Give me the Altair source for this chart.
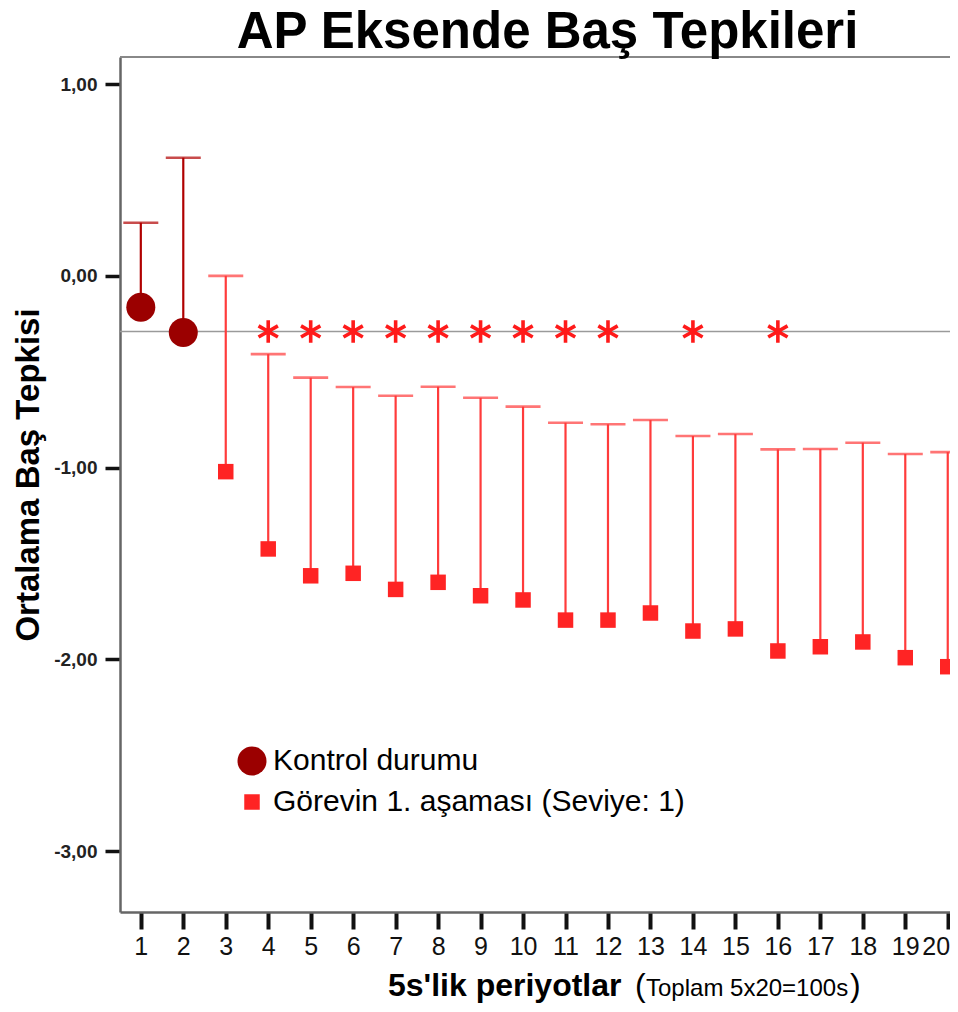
import altair as alt
import pandas as pd

# ---------------- data ----------------
series_names = ["Kontrol durumu", "Görevin 1. aşaması (Seviye: 1)"]

periods_ctrl = [1, 2]
ctrl_mean = [-0.164, -0.295]
ctrl_upper = [0.277, 0.616]

periods_task = list(range(3, 21))
task_mean = [-1.021, -1.424, -1.564, -1.551, -1.635, -1.598, -1.668, -1.690, -1.795,
             -1.795, -1.758, -1.852, -1.841, -1.956, -1.934, -1.909, -1.991, -2.038]
task_upper = [0.000, -0.408, -0.531, -0.580, -0.625, -0.578, -0.636, -0.682, -0.766,
              -0.774, -0.752, -0.835, -0.825, -0.905, -0.903, -0.870, -0.929, -0.919]

star_periods = [4, 5, 6, 7, 8, 9, 10, 11, 12, 14, 16]
ref_value = -0.29

x_ticks = list(range(1, 21))
y_ticks = [-3, -2, -1, 0, 1]

title_text = "AP Eksende Baş Tepkileri"
y_title = "Ortalama Baş Tepkisi"
x_title_bold = "5s'lik periyotlar"
x_title_rest = "Toplam 5x20=100s"

# ---------------- tables ----------------
ctrl_df = pd.DataFrame({"period": periods_ctrl, "value": ctrl_mean, "upper": ctrl_upper,
                        "series": series_names[0]})
task_df = pd.DataFrame({"period": periods_task, "value": task_mean, "upper": task_upper,
                        "series": series_names[1]})
pts_df = pd.concat([ctrl_df, task_df], ignore_index=True)
star_df = pd.DataFrame({"period": star_periods, "value": [ref_value] * len(star_periods)})
ref_df = pd.DataFrame({"value": [ref_value]})

W, H = 830, 855
FONT = "Liberation Sans"

xs = alt.Scale(domain=[0.51, 20.053], nice=False, zero=False)
ys = alt.Scale(domain=[-3.317, 1.141], nice=False, zero=False)

xaxis = alt.Axis(values=x_ticks, title=None, tickSize=17, tickWidth=4, tickColor="#111",
                 domainColor="#666", domainWidth=2.5, labelFontSize=25, labelFont=FONT,
                 labelColor="#111", labelPadding=5, grid=False, labelFlush=False,
                 labelOverlap=False, format="d",
                 labelOffset={"condition": {"test": "datum.value == 20", "value": -12},
                              "value": 0})
yaxis = alt.Axis(values=y_ticks, title=None, tickSize=15, tickWidth=3.5, tickColor="#111",
                 domainColor="#666", domainWidth=2.5, labelFontSize=19, labelFont=FONT,
                 labelFontWeight="bold", labelColor="#222", labelPadding=8, grid=False,
                 labelExpr="replace(replace(format(datum.value, '.2f'), '.', ','), '\u2212', '-')")

X = alt.X("period:Q", scale=xs, axis=xaxis)
Y = alt.Y("value:Q", scale=ys, axis=yaxis)

legend = alt.Legend(orient="none", legendX=117, legendY=689, title=None,
                    labelFontSize=30, labelFont=FONT, labelColor="black",
                    rowPadding=11, labelOffset=6, symbolStrokeWidth=0, padding=0,
                    labelLimit=1000)

ref = alt.Chart(ref_df).mark_rule(color="#9a9a9a", strokeWidth=1.6).encode(y=Y)

top_line = alt.Chart(ref_df).mark_rule(color="#888", strokeWidth=2).encode(
    x=alt.value(0), x2=alt.value(W), y=alt.value(0))

whisk_ctrl = alt.Chart(ctrl_df).mark_rule(color="#B00000", strokeWidth=2.2).encode(
    x=X, y=Y, y2=alt.Y2("upper:Q"))
cap_ctrl = alt.Chart(ctrl_df).mark_tick(color="#B00000", orient="horizontal", size=35,
                                        thickness=2.6).encode(
    x=X, y=alt.Y("upper:Q", scale=ys, axis=yaxis))

whisk_task = alt.Chart(task_df).mark_rule(color="#FF3B3B", strokeWidth=2.2).encode(
    x=X, y=Y, y2=alt.Y2("upper:Q"))
cap_task = alt.Chart(task_df).mark_tick(color="#FF3B3B", orient="horizontal", size=35,
                                        thickness=2.6).encode(
    x=X, y=alt.Y("upper:Q", scale=ys, axis=yaxis))

points = alt.Chart(pts_df).mark_point(filled=True, opacity=1, strokeWidth=0).encode(
    x=X, y=Y,
    color=alt.Color("series:N", scale=alt.Scale(domain=series_names,
                                                range=["#9B0000", "#FF2424"]), legend=legend),
    shape=alt.Shape("series:N", scale=alt.Scale(domain=series_names,
                                                range=["circle", "square"]), legend=legend),
    size=alt.Size("series:N", scale=alt.Scale(domain=series_names, range=[841, 240]),
                  legend=legend),
)

star_path = "M0,-1L0,1M-0.866,-0.5L0.866,0.5M-0.866,0.5L0.866,-0.5"
stars = alt.Chart(star_df).mark_point(shape=star_path, filled=False, color="#FF1A1A",
                                      strokeWidth=3.6, size=500, opacity=1).encode(x=X, y=Y)

def text_layer(txt, **kw):
    return alt.Chart(pd.DataFrame({"t": [txt]})).mark_text(font=FONT, **kw)

title = text_layer(title_text, fontSize=51, fontWeight="bold", color="black",
                   align="center", baseline="alphabetic").encode(
    text="t:N", x=alt.value(427.5), y=alt.value(-9))

ytitle = text_layer(y_title, fontSize=33, fontWeight="bold", color="black", angle=270,
                    align="center", baseline="alphabetic").encode(
    text="t:N", x=alt.value(-81), y=alt.value(418))

XT_Y = 939
xt1 = text_layer(x_title_bold, fontSize=32, fontWeight="bold", color="black",
                 align="left", baseline="alphabetic").encode(
    text="t:N", x=alt.value(268), y=alt.value(XT_Y))
xt2 = text_layer("(", fontSize=32, color="black", align="left",
                 baseline="alphabetic").encode(text="t:N", x=alt.value(515), y=alt.value(XT_Y))
xt3 = text_layer(x_title_rest, fontSize=24, color="black", align="left",
                 baseline="alphabetic").encode(text="t:N", x=alt.value(526), y=alt.value(XT_Y))
xt4 = text_layer(")", fontSize=32, color="black", align="left",
                 baseline="alphabetic").encode(text="t:N", x=alt.value(730), y=alt.value(XT_Y))

chart = alt.layer(
    ref, top_line, whisk_ctrl, cap_ctrl, whisk_task, cap_task, points, stars,
    title, ytitle, xt1, xt2, xt3, xt4
).properties(
    width=W, height=H,
    autosize=alt.AutoSizeParams(type="none"),
    padding={"left": 112, "top": 49, "right": 0, "bottom": 92},
    background="white",
).configure_view(stroke=None)

chart.save("out.html", embed_options={"renderer": "svg", "actions": False})
